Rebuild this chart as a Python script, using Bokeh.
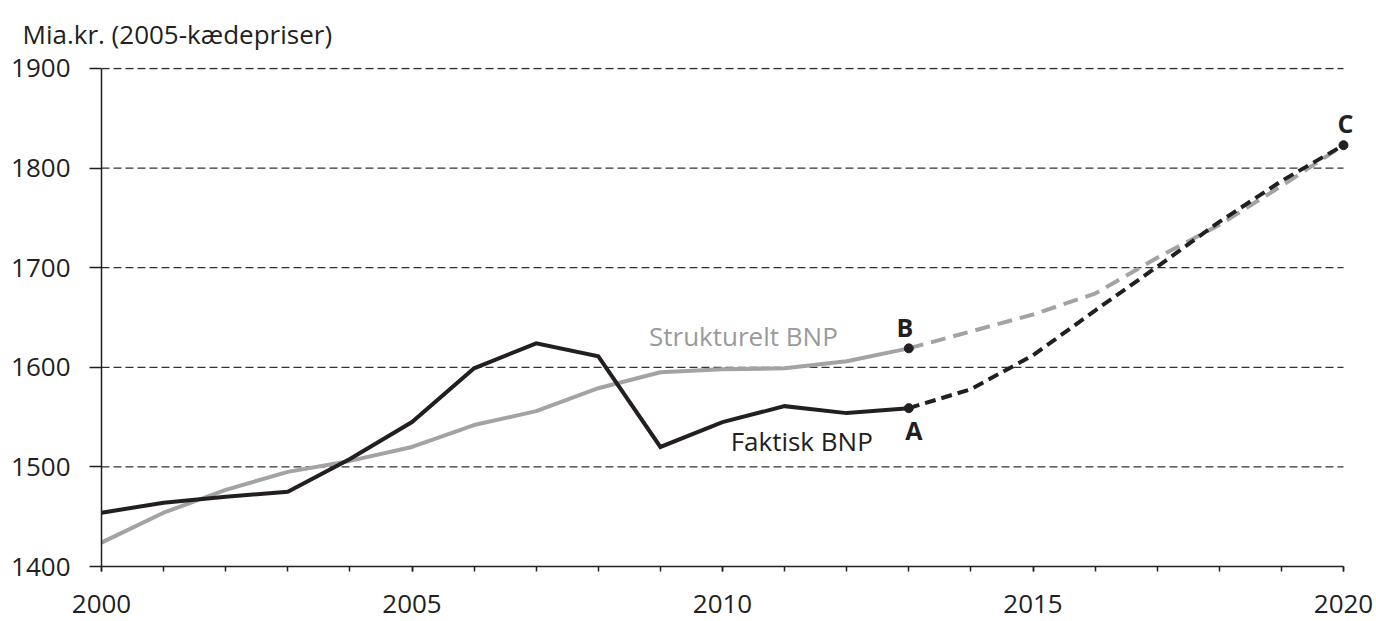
from bokeh.plotting import figure
from bokeh.models import Range1d, SingleIntervalTicker, FixedTicker, Label, Title
from bokeh.embed import file_html
from bokeh.resources import INLINE

# ---- data -------------------------------------------------------------
years_hist = [2000, 2001, 2002, 2003, 2004, 2005, 2006, 2007, 2008, 2009, 2010, 2011, 2012, 2013]
faktisk_hist = [1454, 1464, 1470, 1475, 1508, 1545, 1599, 1624, 1611, 1520, 1545, 1561, 1554, 1559]
struktur_hist = [1424, 1454, 1477, 1495, 1506, 1520, 1542, 1556, 1579, 1595, 1598, 1599, 1606, 1619]

years_proj = [2013, 2014, 2015, 2016, 2017, 2018, 2019, 2020]
faktisk_proj = [1559, 1578, 1612, 1657, 1701, 1746, 1787, 1823]
struktur_proj = [1619, 1636, 1653, 1674, 1710, 1743, 1782, 1823]

point_names = ["A", "B", "C"]
point_x = [2013, 2013, 2020]
point_y = [1559, 1619, 1823]

x_start, x_end = 2000, 2020
y_ticks = [1400, 1500, 1600, 1700, 1800, 1900]
y_title = "Mia.kr. (2005-kædepriser)"
label_struktur = "Strukturelt BNP"
label_faktisk = "Faktisk BNP"

BLACK = "#231f20"
GREY = "#a3a3a3"
FONT = "Open Sans"

W, H = 1376, 621
LEFT, RIGHT_PAD, TOP, BOTTOM = 101, 33, 67, 55
frame_w = W - LEFT
plot_w = frame_w - RIGHT_PAD
x_range_end = x_end + (x_end - x_start) * RIGHT_PAD / plot_w

p = figure(width=W, height=H, output_backend="svg", toolbar_location=None,
           x_range=Range1d(x_start, x_range_end), y_range=Range1d(y_ticks[0], y_ticks[-1] + 1),
           min_border_left=LEFT, min_border_right=0, min_border_top=TOP, min_border_bottom=BOTTOM)
p.outline_line_color = None
p.background_fill_color = "white"
p.border_fill_color = "white"

# title (y axis caption, top-left)
p.add_layout(Title(text=y_title, align="left", vertical_align="top", offset=-79, standoff=28,
                   text_font=FONT, text_font_size="26px", text_font_style="normal",
                   text_color=BLACK), "above")

# axes
p.xaxis.ticker = SingleIntervalTicker(interval=5, num_minor_ticks=5)
p.xaxis.bounds = (x_start, x_end)
p.yaxis.ticker = FixedTicker(ticks=y_ticks)
p.yaxis.bounds = (y_ticks[0], y_ticks[-1])
for ax in (p.xaxis, p.yaxis):
    ax.axis_line_color = BLACK
    ax.axis_line_width = 1.5
    ax.major_tick_line_color = BLACK
    ax.major_tick_line_width = 1.5
    ax.minor_tick_line_color = BLACK
    ax.minor_tick_line_width = 1.5
    ax.major_label_text_font = FONT
    ax.major_label_text_font_size = "26px"
    ax.major_label_text_color = BLACK
    ax.major_tick_in = 0
p.xaxis.major_tick_out = 5
p.xaxis.minor_tick_out = 5
p.xaxis.minor_tick_in = 0
p.xaxis.major_label_standoff = 23
p.yaxis.major_tick_out = 12
p.yaxis.minor_tick_out = 0
p.yaxis.minor_tick_in = 0
p.yaxis.major_label_standoff = 19

p.xgrid.grid_line_color = None
p.ygrid.grid_line_color = None

# horizontal dashed grid lines, spanning only 2000-2020
g = y_ticks[1:]
p.segment(x0=[x_start] * len(g), y0=g, x1=[x_end] * len(g), y1=g,
          line_color="#333333", line_width=1.3, line_dash="8 4")

# series
p.line(years_hist, struktur_hist, line_color=GREY, line_width=4)
p.line(years_proj, struktur_proj, line_color=GREY, line_width=4, line_dash="15 8")
p.line(years_hist, faktisk_hist, line_color=BLACK, line_width=4, line_join="miter")
p.line(years_proj, faktisk_proj, line_color=BLACK, line_width=4, line_dash="11 6")
p.scatter(point_x, point_y, size=9, color=BLACK)

# labels
p.add_layout(Label(x=point_x[1], y=point_y[1], x_offset=-71, y_offset=12, text=label_struktur,
                   text_font=FONT, text_font_size="26px", text_color="#9a9a9a",
                   text_align="right", text_baseline="middle"))
p.add_layout(Label(x=point_x[0], y=point_y[0], x_offset=-36, y_offset=-33, text=label_faktisk,
                   text_font=FONT, text_font_size="26px", text_color=BLACK,
                   text_align="right", text_baseline="middle"))
offs = [(5, -22), (-4, 21), (2, 22)]
for name, x, y, (dx, dy) in zip(point_names, point_x, point_y, offs):
    p.add_layout(Label(x=x, y=y, x_offset=dx, y_offset=dy, text=name,
                       text_font=FONT, text_font_size="25px", text_font_style="bold",
                       text_color=BLACK, text_align="center", text_baseline="middle"))

open("out.html", "w").write(file_html(p, INLINE))
